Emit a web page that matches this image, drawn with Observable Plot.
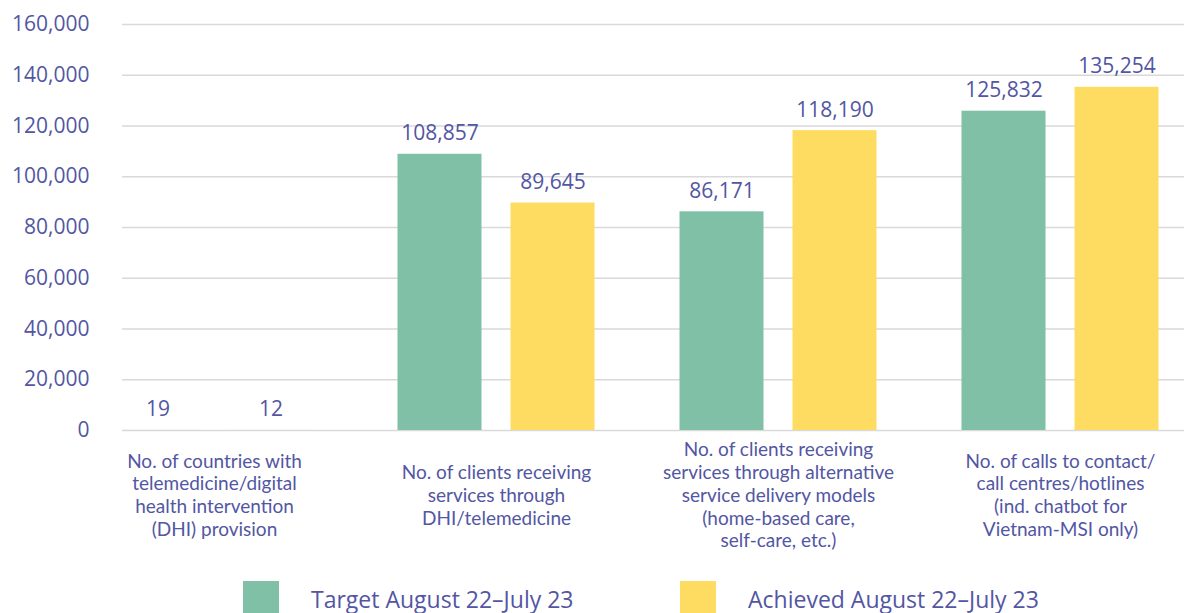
<!DOCTYPE html>
<html>
<head>
<meta charset="utf-8">
<script src="https://cdn.jsdelivr.net/npm/d3@7"></script>
<script src="https://cdn.jsdelivr.net/npm/@observablehq/plot@0.6"></script>
<style>
  html, body { margin: 0; padding: 0; background: #fff; overflow: hidden; }
  body { width: 1184px; height: 613px; font-family: "Open Sans", sans-serif; color: #5256a3; }
  #chart svg { display: block; }
  #legend { position: relative; height: 43px; }
  .item { position: absolute; top: 11px; display: flex; align-items: center; font-size: 23px; }
  .sw { width: 36px; height: 36px; margin-right: 32px; }
</style>
</head>
<body>
<div id="chart"></div>
<div id="legend"></div>
<script>
const categories = [
  "No. of countries with\ntelemedicine/digital\nhealth intervention\n(DHI) provision",
  "No. of clients receiving\nservices through\nDHI/telemedicine",
  "No. of clients receiving\nservices through alternative\nservice delivery models\n(home-based care,\nself-care, etc.)",
  "No. of calls to contact/\ncall centres/hotlines\n(ind. chatbot for\nVietnam-MSI only)"
];
const seriesNames = ["Target August 22\u2013July 23", "Achieved August 22\u2013July 23"];
const targetValues = [19, 108857, 86171, 125832];
const achievedValues = [12, 89645, 118190, 135254];
const yTicks = [0, 20000, 40000, 60000, 80000, 100000, 120000, 140000, 160000];
const colors = ["#7fc0a6", "#fedc62"];
const textColor = "#5256a3";

const target = categories.map((c, i) => ({category: c, series: seriesNames[0], value: targetValues[i]}));
const achieved = categories.map((c, i) => ({category: c, series: seriesNames[1], value: achievedValues[i]}));
const fmt = d3.format(",");

const W = 1184, H = 570;
const chart = Plot.plot({
  width: W,
  height: H,
  marginTop: 24,
  marginBottom: H - 430,
  marginLeft: 122,
  marginRight: 0,
  style: {fontFamily: "'Open Sans', sans-serif", color: textColor, background: "#fff"},
  x: {domain: categories, range: [71.5, 1202.5], padding: 0, axis: null},
  y: {domain: [0, 160000], axis: null},
  color: {domain: seriesNames, range: colors},
  marks: [
    Plot.gridY(yTicks, {stroke: "#d9d9d9", strokeOpacity: 1, strokeWidth: 1.3}),
    Plot.axisY(yTicks, {tickSize: 0, tickPadding: 33, tickFormat: fmt, fontSize: 21, fill: textColor, label: null}),
    Plot.barY(target, {x: "category", y: "value", fill: "series", insetLeft: 42.5, insetRight: 155.5}),
    Plot.barY(achieved, {x: "category", y: "value", fill: "series", insetLeft: 155.5, insetRight: 42.5}),
    Plot.text(target, {x: "category", y: "value", text: d => fmt(d.value), dx: -56.5, dy: -14, lineAnchor: "bottom", fontSize: 21, fill: textColor}),
    Plot.text(achieved, {x: "category", y: "value", text: d => fmt(d.value), dx: 56.5, dy: -14, lineAnchor: "bottom", fontSize: 21, fill: textColor}),
    Plot.text(categories, {x: d => d, y: 0, text: d => d, dy: 64, lineAnchor: "middle", fontSize: 19, lineHeight: 1.2, fontFamily: "Lato", fill: textColor})
  ]
});
document.getElementById("chart").appendChild(chart);

const legend = document.getElementById("legend");
const lefts = [243, 680];
seriesNames.forEach((s, i) => {
  const item = document.createElement("div");
  item.className = "item";
  item.style.left = lefts[i] + "px";
  const sw = document.createElement("div");
  sw.className = "sw";
  sw.style.background = colors[i];
  const t = document.createElement("span");
  t.textContent = s;
  item.appendChild(sw);
  item.appendChild(t);
  legend.appendChild(item);
});
</script>
</body>
</html>
